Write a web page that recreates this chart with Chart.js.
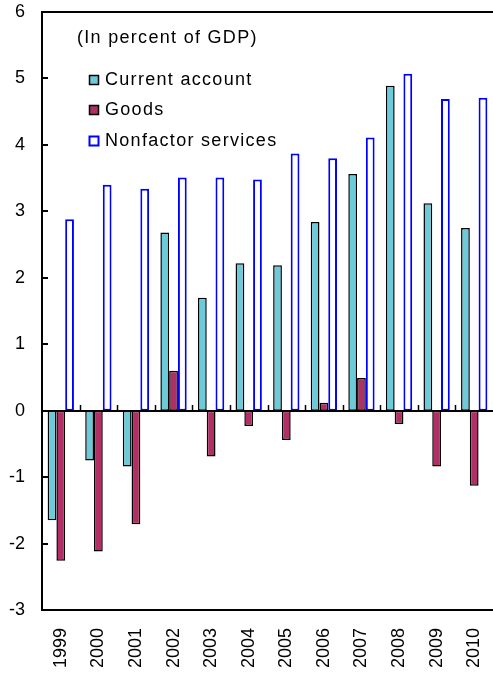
<!DOCTYPE html>
<html>
<head>
<meta charset="utf-8">
<script src="https://cdn.jsdelivr.net/npm/chart.js@4/dist/chart.umd.min.js"></script>
<style>
  html, body { margin: 0; padding: 0; background: #fff; }
  #wrap { width: 493px; height: 674px; position: relative; }
</style>
</head>
<body>
<div id="wrap"><canvas id="c" width="493" height="674"></canvas></div>
<script>
// Balance of payments components, percent of GDP
const years = ['1999','2000','2001','2002','2003','2004','2005','2006','2007','2008','2009','2010'];
const currentAccount = [-1.65, -0.75, -0.84, 2.68, 1.70, 2.22, 2.19, 2.84, 3.56, 4.89, 3.12, 2.75];
const goods = [-2.26, -2.12, -1.71, 0.60, -0.69, -0.23, -0.44, 0.12, 0.49, -0.20, -0.84, -1.13];
const nonfactorServices = [2.88, 3.40, 3.34, 3.51, 3.51, 3.48, 3.87, 3.80, 4.11, 5.07, 4.69, 4.71];
const yTicks = [-3, -2, -1, 0, 1, 2, 3, 4, 5, 6];
const noteText = '(In percent of GDP)';

const FONT = '"Liberation Sans", Arial, sans-serif';
const CA_COLOR = '#6dcad9';
const GOODS_COLOR = '#b02f64';
const NFS_COLOR = '#0000ff';

// Frame, zero line, inward ticks, note and legend
const decorations = {
  id: 'decorations',
  afterDraw(chart) {
    const ctx = chart.ctx;
    const a = chart.chartArea;
    const x = chart.scales.x, y = chart.scales.y;
    ctx.save();
    ctx.strokeStyle = '#000';
    ctx.lineWidth = 2;
    // top frame line
    ctx.beginPath();
    ctx.moveTo(a.left, a.top);
    ctx.lineTo(a.right + 2, a.top);
    ctx.stroke();
    // zero line
    const y0 = Math.round(y.getPixelForValue(0));
    ctx.beginPath();
    ctx.moveTo(a.left, y0);
    ctx.lineTo(a.right + 2, y0);
    ctx.stroke();
    // category boundary ticks on zero line
    ctx.lineWidth = 1.5;
    const n = years.length;
    for (let i = 1; i < n; i++) {
      const px = (x.getPixelForValue(i - 1) + x.getPixelForValue(i)) / 2;
      ctx.beginPath();
      ctx.moveTo(Math.round(px) + 0.5, y0);
      ctx.lineTo(Math.round(px) + 0.5, y0 - 6);
      ctx.stroke();
    }
    // inward y ticks
    ctx.lineWidth = 2;
    yTicks.forEach(v => {
      const py = Math.round(y.getPixelForValue(v));
      ctx.beginPath();
      ctx.moveTo(a.left, py);
      ctx.lineTo(a.left + 6, py);
      ctx.stroke();
    });
    // note
    ctx.fillStyle = '#000';
    ctx.font = '18px ' + FONT;
    ctx.textBaseline = 'middle';
    ctx.textAlign = 'left';
    ctx.letterSpacing = '1.3px';
    ctx.fillText(noteText, 77, 38);
    // legend
    const rowsY = [80, 110, 141];
    chart.data.datasets.forEach((ds, i) => {
      const cy = rowsY[i];
      ctx.fillStyle = ds.backgroundColor;
      ctx.fillRect(89, cy - 5, 10, 10);
      ctx.strokeStyle = ds.borderColor;
      ctx.lineWidth = ds.borderWidth;
      ctx.strokeRect(89.5, cy - 4.5, 9, 9);
      ctx.fillStyle = '#000';
      ctx.fillText(ds.label, 105, cy);
    });
    ctx.restore();
  }
};

new Chart(document.getElementById('c'), {
  type: 'bar',
  data: {
    labels: years,
    datasets: [
      { label: 'Current account', data: currentAccount, backgroundColor: CA_COLOR, borderColor: '#000', borderWidth: 1.5 },
      { label: 'Goods', data: goods, backgroundColor: GOODS_COLOR, borderColor: '#000', borderWidth: 1.5 },
      { label: 'Nonfactor services', data: nonfactorServices, backgroundColor: '#ffffff', borderColor: NFS_COLOR, borderWidth: 2 }
    ]
  },
  options: {
    responsive: false,
    animation: false,
    devicePixelRatio: 1,
    layout: { padding: { top: 12, right: 0, left: 0, bottom: 0 } },
    datasets: { bar: { categoryPercentage: 0.7, barPercentage: 1.0, borderSkipped: false } },
    plugins: { legend: { display: false }, tooltip: { enabled: false } },
    scales: {
      x: {
        grid: { display: false, drawTicks: false },
        border: { display: true, color: '#000', width: 2 },
        ticks: {
          color: '#000',
          font: { family: FONT, size: 18 },
          minRotation: 90, maxRotation: 90,
          padding: 18,
          autoSkip: false
        },
        afterFit(scale) {
          scale.height = 64;
          scale.paddingLeft = 0; scale.paddingRight = 0;
        }
      },
      y: {
        min: -3, max: 6,
        grid: { display: false, drawTicks: false },
        border: { display: true, color: '#000', width: 2 },
        ticks: {
          stepSize: 1,
          color: '#000',
          font: { family: FONT, size: 18 },
          padding: 17
        },
        afterFit(scale) {
          scale.width = 42;
          scale.paddingTop = 0; scale.paddingBottom = 0;
        }
      }
    }
  },
  plugins: [decorations]
});
</script>
</body>
</html>
